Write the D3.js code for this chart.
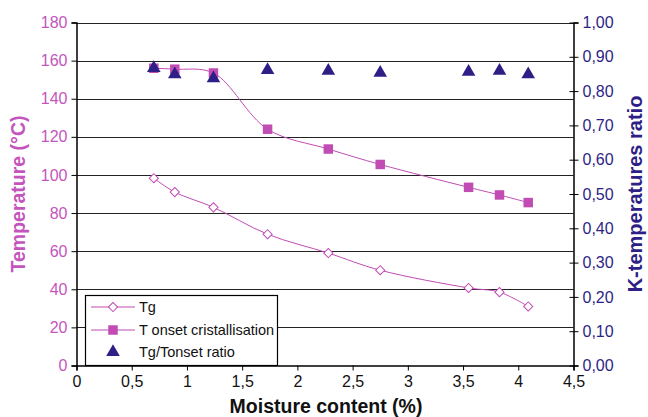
<!DOCTYPE html>
<html>
<head>
<meta charset="utf-8">
<script src="https://cdn.jsdelivr.net/npm/d3@7"></script>
<style>
  body { margin: 0; background: #fff; }
  text { font-family: "Liberation Sans", Arial, sans-serif; }
</style>
</head>
<body>
<div id="chart"></div>
<script>
// moisture content (%)
const moisture = [0.7, 0.89, 1.24, 1.73, 2.28, 2.75, 3.55, 3.83, 4.09];
// Tg (°C)
const tg = [98.3, 91, 83, 68.9, 59, 50, 40.7, 38.5, 31];
// T onset cristallisation (°C)
const tOnset = [156, 155.5, 153.5, 124, 113.6, 105.5, 93.5, 89.5, 85.5];
// Tg/Tonset ratio
const ratio = [0.867, 0.849, 0.837, 0.861, 0.859, 0.853, 0.856, 0.859, 0.849];

const xTicks = [0, 0.5, 1, 1.5, 2, 2.5, 3, 3.5, 4, 4.5];
const yTicks = [0, 20, 40, 60, 80, 100, 120, 140, 160, 180];
const y2Ticks = [0, 0.1, 0.2, 0.3, 0.4, 0.5, 0.6, 0.7, 0.8, 0.9, 1.0];

const width = 648, height = 417;
const magenta = "#c04cb4";
const magentaText = "#c455bd";
const navy = "#2e1f86";

const svg = d3.select("#chart").append("svg")
  .attr("width", width).attr("height", height);

const x = d3.scaleLinear().domain([0, 4.5]).range([76.5, 573.5]);
const y = d3.scaleLinear().domain([0, 180]).range([365.5, 22.5]);
const y2 = d3.scaleLinear().domain([0, 1]).range([365.5, 22.5]);

const comma = (f) => (d) => d3.format(f)(d).replace(".", ",");

// gridlines
svg.append("g")
  .selectAll("line")
  .data(yTicks.filter(d => d > 0))
  .join("line")
  .attr("x1", x(0)).attr("x2", x(4.5))
  .attr("y1", d => Math.round(y(d)) + 0.5).attr("y2", d => Math.round(y(d)) + 0.5)
  .attr("stroke", "#222").attr("stroke-width", 1);

// left axis
const gy = svg.append("g").attr("transform", `translate(${x(0)},0)`)
  .call(d3.axisLeft(y).tickValues(yTicks).tickSize(5).tickPadding(4));
gy.selectAll("text").attr("fill", magentaText).style("font-size", "16px");

// right axis
const gy2 = svg.append("g").attr("transform", `translate(${x(4.5)},0)`)
  .call(d3.axisRight(y2).tickValues(y2Ticks).tickFormat(comma(".2f")).tickSize(5).tickPadding(4));
gy2.selectAll("text").attr("fill", navy).style("font-size", "16px");
gy2.selectAll(".tick line").attr("x1", -4);

// bottom axis
const gx = svg.append("g").attr("transform", `translate(0,${y(0)})`)
  .call(d3.axisBottom(x).tickValues(xTicks).tickFormat(d => String(d).replace(".", ",")).tickSize(5).tickPadding(5));
gx.selectAll("text").attr("fill", "#111").style("font-size", "16px");

svg.selectAll(".domain").attr("stroke", "#000").attr("stroke-width", 1.5);
svg.selectAll(".tick line").attr("stroke", "#000");

// axis titles
svg.append("text")
  .attr("transform", `translate(25,${(y(0) + y(180)) / 2}) rotate(-90)`)
  .attr("text-anchor", "middle")
  .attr("fill", magentaText).style("font-size", "19.5px").style("font-weight", "bold")
  .text("Temperature (°C)");

svg.append("text")
  .attr("transform", `translate(642,${(y(0) + y(180)) / 2}) rotate(-90)`)
  .attr("text-anchor", "middle")
  .attr("fill", navy).style("font-size", "20px").style("font-weight", "bold")
  .text("K-temperatures ratio");

svg.append("text")
  .attr("x", (x(0) + x(4.5)) / 2 + 1).attr("y", 413)
  .attr("text-anchor", "middle")
  .attr("fill", "#111").style("font-size", "19.5px").style("font-weight", "bold")
  .text("Moisture content (%)");

// lines
const line = (vals) => d3.line()
  .x((d, i) => x(moisture[i]))
  .y(d => y(d))
  .curve(d3.curveCatmullRom.alpha(0.5))(vals);

svg.append("path").attr("d", line(tg))
  .attr("fill", "none").attr("stroke", magenta).attr("stroke-width", 1);
svg.append("path").attr("d", line(tOnset))
  .attr("fill", "none").attr("stroke", magenta).attr("stroke-width", 1);

// markers
const diamond = d3.symbol().type(d3.symbolSquare).size(42);
const square = d3.symbol().type(d3.symbolSquare).size(90);
const tri = d3.symbol().type(d3.symbolTriangle).size(80);

svg.append("g").selectAll("path")
  .data(tg).join("path")
  .attr("d", diamond)
  .attr("transform", (d, i) => `translate(${x(moisture[i])},${y(d)}) rotate(45)`)
  .attr("fill", "#fff").attr("stroke", magenta).attr("stroke-width", 1);

svg.append("g").selectAll("path")
  .data(tOnset).join("path")
  .attr("d", square)
  .attr("transform", (d, i) => `translate(${x(moisture[i])},${y(d)})`)
  .attr("fill", magenta);

svg.append("g").selectAll("path")
  .data(ratio).join("path")
  .attr("d", tri)
  .attr("transform", (d, i) => `translate(${x(moisture[i])},${y2(d)})`)
  .attr("fill", navy);

// legend
const lg = svg.append("g");
lg.append("rect")
  .attr("x", 85.5).attr("y", 295.5).attr("width", 192).attr("height", 70)
  .attr("fill", "#fff").attr("stroke", "#000").attr("stroke-width", 1.2);

const legendRows = [
  { label: "Tg", y: 307, line: true, sym: diamond, rot: 45, fill: "#fff", stroke: magenta },
  { label: "T onset cristallisation", y: 330, line: true, sym: square, rot: 0, fill: magenta, stroke: "none" },
  { label: "Tg/Tonset ratio", y: 352, line: false, sym: tri, rot: 0, fill: navy, stroke: "none" }
];
legendRows.forEach(r => {
  if (r.line) {
    lg.append("line").attr("x1", 91).attr("x2", 135).attr("y1", r.y).attr("y2", r.y)
      .attr("stroke", magenta).attr("stroke-width", 1);
  }
  lg.append("path").attr("d", r.sym)
    .attr("transform", `translate(113,${r.y}) rotate(${r.rot})`)
    .attr("fill", r.fill).attr("stroke", r.stroke);
  lg.append("text").attr("x", 139).attr("y", r.y + 5)
    .attr("fill", "#111").style("font-size", "14.5px").text(r.label);
});
</script>
</body>
</html>
